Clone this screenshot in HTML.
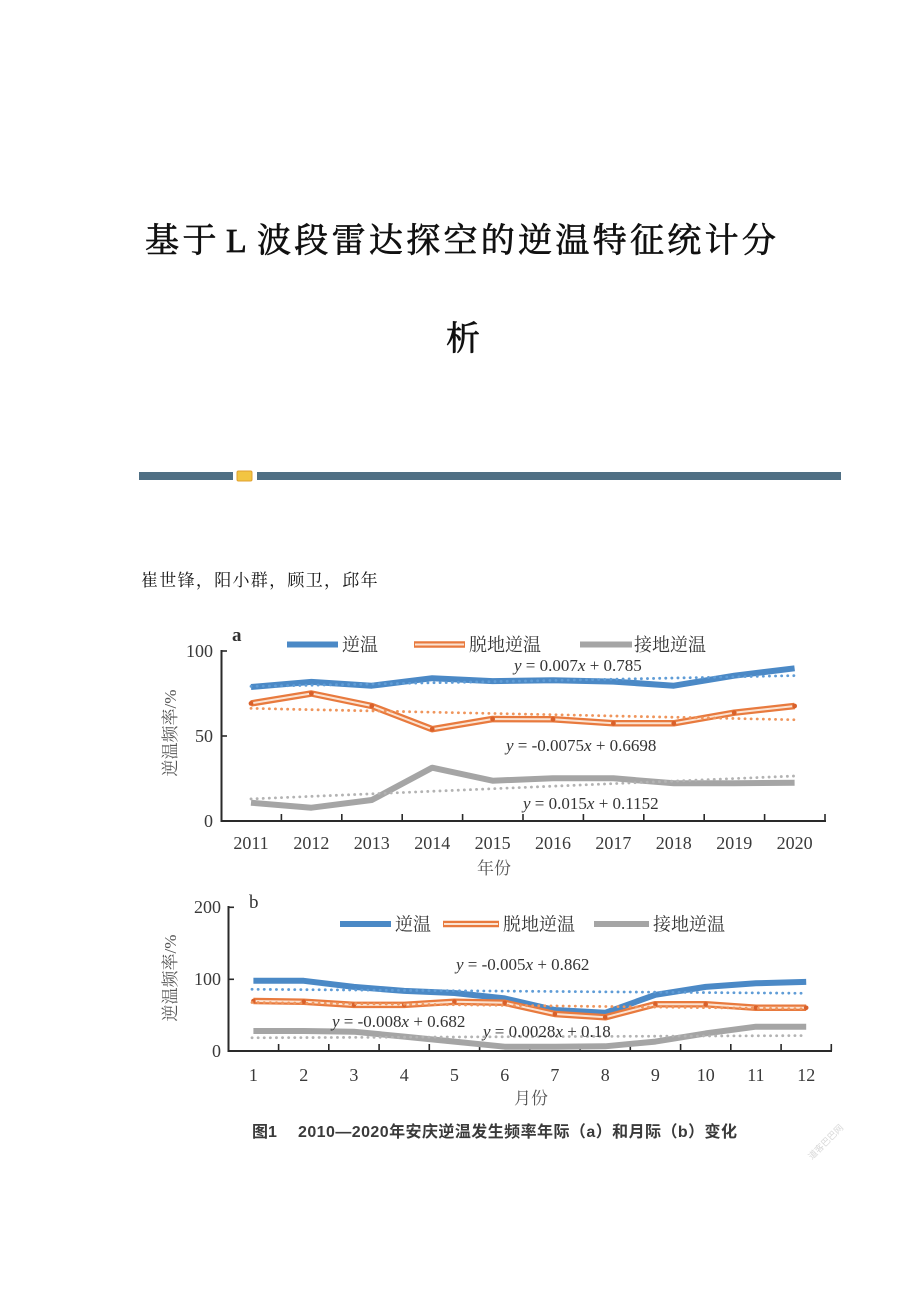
<!DOCTYPE html>
<html>
<head>
<meta charset="utf-8">
<style>
  html,body{margin:0;padding:0;background:#fff;}
  body{width:920px;height:1302px;overflow:hidden;}
  svg{display:block;}
  .serif{font-family:"Liberation Serif","Noto Serif CJK SC",serif;}
  .cjk{font-family:"Liberation Serif","Noto Serif CJK SC",serif;}
  .sans{font-family:"Liberation Sans","Noto Sans CJK SC",sans-serif;}
</style>
</head>
<body>
<svg width="920" height="1302" viewBox="0 0 920 1302" xmlns="http://www.w3.org/2000/svg">
  <rect width="920" height="1302" fill="#fff"/>

  <!-- Title -->
  <text class="cjk" font-size="34" fill="#111" stroke="#111" stroke-width="0.7" y="252"
        x="145 182.5 226 257 294.3 331.6 368.9 406.2 443.5 480.8 518.1 555.4 592.7 630 667.3 704.6 741.9">基于L波段雷达探空的逆温特征统计分</text>
  <text class="cjk" font-size="34" fill="#111" stroke="#111" stroke-width="0.7" x="446" y="350">析</text>

  <!-- Divider -->
  <rect x="139" y="472" width="94" height="8" fill="#4f6f84"/>
  <rect x="257" y="472" width="584" height="8" fill="#4f6f84"/>
  <rect x="237" y="471" width="15" height="10" rx="1.5" fill="#f2c542" stroke="#e0a030" stroke-width="1"/>

  <!-- Authors -->
  <text class="cjk" font-size="17" fill="#111" y="586"
        x="141 159.3 177.6 195.9 214.2 232.5 250.8 269.1 287.4 305.7 324 342.3 360.6">崔世锋，阳小群，顾卫，邱年</text>

  <!-- ================= Chart a ================= -->
  <g>
    <text class="serif" font-size="19" font-weight="bold" fill="#333" x="232" y="641">a</text>
    <!-- legend -->
    <line x1="287" y1="644.5" x2="338" y2="644.5" stroke="#4b89c6" stroke-width="6"/>
    <text class="cjk" font-size="18" fill="#333" x="342" y="651">逆温</text>
    <line x1="414" y1="644.5" x2="465" y2="644.5" stroke="#e87a3e" stroke-width="6.5"/>
    <line x1="415" y1="644.5" x2="464" y2="644.5" stroke="#fbe3d2" stroke-width="2"/>
    <text class="cjk" font-size="18" fill="#333" x="469" y="651">脱地逆温</text>
    <line x1="580" y1="644.5" x2="632" y2="644.5" stroke="#a5a5a5" stroke-width="6"/>
    <text class="cjk" font-size="18" fill="#333" x="634" y="651">接地逆温</text>

    <!-- axes -->
    <line x1="221.5" y1="650" x2="221.5" y2="822" stroke="#2a2a2a" stroke-width="2"/>
    <line x1="220.5" y1="821" x2="826" y2="821" stroke="#2a2a2a" stroke-width="2"/>
    <line x1="221" y1="651" x2="227" y2="651" stroke="#2a2a2a" stroke-width="1.6"/>
    <line x1="221" y1="736" x2="227" y2="736" stroke="#2a2a2a" stroke-width="1.6"/>
    <g stroke="#2a2a2a" stroke-width="1.6">
      <line x1="281.4" y1="821" x2="281.4" y2="814"/>
      <line x1="341.8" y1="821" x2="341.8" y2="814"/>
      <line x1="402.2" y1="821" x2="402.2" y2="814"/>
      <line x1="462.6" y1="821" x2="462.6" y2="814"/>
      <line x1="523" y1="821" x2="523" y2="814"/>
      <line x1="583.4" y1="821" x2="583.4" y2="814"/>
      <line x1="643.8" y1="821" x2="643.8" y2="814"/>
      <line x1="704.2" y1="821" x2="704.2" y2="814"/>
      <line x1="764.6" y1="821" x2="764.6" y2="814"/>
      <line x1="825" y1="821" x2="825" y2="814"/>
    </g>
    <!-- y tick labels -->
    <g class="serif" font-size="18" fill="#3a3a3a" text-anchor="end">
      <text x="213" y="657">100</text>
      <text x="213" y="742">50</text>
      <text x="213" y="827">0</text>
    </g>
    <!-- x tick labels -->
    <g class="serif" font-size="18" fill="#3a3a3a" text-anchor="middle">
      <text x="251" y="849">2011</text>
      <text x="311.4" y="849">2012</text>
      <text x="371.8" y="849">2013</text>
      <text x="432.2" y="849">2014</text>
      <text x="492.6" y="849">2015</text>
      <text x="553" y="849">2016</text>
      <text x="613.4" y="849">2017</text>
      <text x="673.8" y="849">2018</text>
      <text x="734.2" y="849">2019</text>
      <text x="794.6" y="849">2020</text>
    </g>
    <text class="cjk" font-size="17" fill="#555" x="494" y="874" text-anchor="middle">年份</text>
    <text class="cjk" font-size="17" fill="#555" transform="translate(176,733) rotate(-90)" text-anchor="middle">逆温频率/%</text>

    <!-- series -->
    <polyline fill="none" stroke="#4b89c6" stroke-width="6" stroke-linejoin="round"
      points="251,687 311.4,681.9 371.8,685.7 432.2,678.2 492.6,681.1 553,680.2 613.4,681.6 673.8,685.7 734.2,675.7 794.6,668.3"/>
    <polyline fill="none" stroke="#e87a3e" stroke-width="6.5" stroke-linejoin="round"
      points="251,703.4 311.4,693.5 371.8,706 432.2,729.2 492.6,719 553,719.3 613.4,723.3 673.8,723.3 734.2,712.7 794.6,706"/>
    <polyline fill="none" stroke="#fbe3d2" stroke-width="2" stroke-linejoin="round"
      points="251,703.4 311.4,693.5 371.8,706 432.2,729.2 492.6,719 553,719.3 613.4,723.3 673.8,723.3 734.2,712.7 794.6,706"/>
    <g fill="#d9602a">
      <circle cx="251" cy="703.4" r="2.4"/><circle cx="311.4" cy="693.5" r="2.4"/>
      <circle cx="371.8" cy="706" r="2.4"/><circle cx="432.2" cy="729.2" r="2.4"/>
      <circle cx="492.6" cy="719" r="2.4"/><circle cx="553" cy="719.3" r="2.4"/>
      <circle cx="613.4" cy="723.3" r="2.4"/><circle cx="673.8" cy="723.3" r="2.4"/>
      <circle cx="734.2" cy="712.7" r="2.4"/><circle cx="794.6" cy="706" r="2.4"/>
    </g>
    <polyline fill="none" stroke="#a5a5a5" stroke-width="6" stroke-linejoin="round"
      points="251,802.7 311.4,807.7 371.8,800 432.2,767.7 492.6,780.7 553,778.3 613.4,778.3 673.8,783.3 734.2,783.3 794.6,782.7"/>

    <!-- trend lines -->
    <line x1="251" y1="686.4" x2="797" y2="675.6" stroke="#5f9cd6" stroke-width="2.8" stroke-linecap="round" stroke-dasharray="0.1 6"/>
    <line x1="251" y1="708.4" x2="797" y2="719.8" stroke="#ef955c" stroke-width="2.8" stroke-linecap="round" stroke-dasharray="0.1 6"/>
    <line x1="251" y1="798.9" x2="797" y2="775.9" stroke="#b3b3b3" stroke-width="2.8" stroke-linecap="round" stroke-dasharray="0.1 6"/>

    <!-- equations -->
    <g class="serif" font-size="17" fill="#333">
      <text x="514" y="671"><tspan font-style="italic">y</tspan> = 0.007<tspan font-style="italic">x</tspan> + 0.785</text>
      <text x="506" y="751"><tspan font-style="italic">y</tspan> = -0.0075<tspan font-style="italic">x</tspan> + 0.6698</text>
      <text x="523" y="809"><tspan font-style="italic">y</tspan> = 0.015<tspan font-style="italic">x</tspan> + 0.1152</text>
    </g>
  </g>

  <!-- ================= Chart b ================= -->
  <g>
    <text class="serif" font-size="19" fill="#333" x="249" y="908">b</text>
    <!-- legend -->
    <line x1="340" y1="924" x2="391" y2="924" stroke="#4b89c6" stroke-width="6"/>
    <text class="cjk" font-size="18" fill="#333" x="395" y="930.5">逆温</text>
    <line x1="443" y1="924" x2="499" y2="924" stroke="#e87a3e" stroke-width="6.5"/>
    <line x1="444" y1="924" x2="498" y2="924" stroke="#fbe3d2" stroke-width="2"/>
    <text class="cjk" font-size="18" fill="#333" x="503" y="930.5">脱地逆温</text>
    <line x1="594" y1="924" x2="649" y2="924" stroke="#a5a5a5" stroke-width="6"/>
    <text class="cjk" font-size="18" fill="#333" x="653" y="930.5">接地逆温</text>

    <!-- axes -->
    <line x1="228.5" y1="906" x2="228.5" y2="1052" stroke="#2a2a2a" stroke-width="2"/>
    <line x1="227.5" y1="1051" x2="832" y2="1051" stroke="#2a2a2a" stroke-width="2"/>
    <line x1="228" y1="907.3" x2="234" y2="907.3" stroke="#2a2a2a" stroke-width="1.6"/>
    <line x1="228" y1="979.3" x2="234" y2="979.3" stroke="#2a2a2a" stroke-width="1.6"/>
    <g stroke="#2a2a2a" stroke-width="1.6">
      <line x1="278.6" y1="1051" x2="278.6" y2="1044"/>
      <line x1="328.8" y1="1051" x2="328.8" y2="1044"/>
      <line x1="379.1" y1="1051" x2="379.1" y2="1044"/>
      <line x1="429.3" y1="1051" x2="429.3" y2="1044"/>
      <line x1="479.6" y1="1051" x2="479.6" y2="1044"/>
      <line x1="529.8" y1="1051" x2="529.8" y2="1044"/>
      <line x1="580.1" y1="1051" x2="580.1" y2="1044"/>
      <line x1="630.3" y1="1051" x2="630.3" y2="1044"/>
      <line x1="680.6" y1="1051" x2="680.6" y2="1044"/>
      <line x1="730.8" y1="1051" x2="730.8" y2="1044"/>
      <line x1="781.1" y1="1051" x2="781.1" y2="1044"/>
      <line x1="831.3" y1="1051" x2="831.3" y2="1044"/>
    </g>
    <g class="serif" font-size="18" fill="#3a3a3a" text-anchor="end">
      <text x="221" y="913">200</text>
      <text x="221" y="985">100</text>
      <text x="221" y="1057">0</text>
    </g>
    <g class="serif" font-size="18" fill="#3a3a3a" text-anchor="middle">
      <text x="253.4" y="1081">1</text>
      <text x="303.7" y="1081">2</text>
      <text x="353.9" y="1081">3</text>
      <text x="404.2" y="1081">4</text>
      <text x="454.4" y="1081">5</text>
      <text x="504.7" y="1081">6</text>
      <text x="554.9" y="1081">7</text>
      <text x="605.2" y="1081">8</text>
      <text x="655.4" y="1081">9</text>
      <text x="705.7" y="1081">10</text>
      <text x="755.9" y="1081">11</text>
      <text x="806.2" y="1081">12</text>
    </g>
    <text class="cjk" font-size="17" fill="#555" x="531" y="1104" text-anchor="middle">月份</text>
    <text class="cjk" font-size="17" fill="#555" transform="translate(176,978) rotate(-90)" text-anchor="middle">逆温频率/%</text>

    <!-- series -->
    <polyline fill="none" stroke="#4b89c6" stroke-width="6" stroke-linejoin="round"
      points="253.4,980.8 303.7,980.8 353.9,986.9 404.2,990.9 454.4,993 504.7,998.4 554.9,1010 605.2,1012.8 655.4,994.8 705.7,986.9 755.9,983.3 806.2,981.9"/>
    <polyline fill="none" stroke="#e87a3e" stroke-width="6.5" stroke-linejoin="round"
      points="253.4,1001 303.7,1001.7 353.9,1004.9 404.2,1004.9 454.4,1001.7 504.7,1002.8 554.9,1014 605.2,1017.3 655.4,1004.2 705.7,1004.2 755.9,1007.8 806.2,1007.8"/>
    <polyline fill="none" stroke="#fbe3d2" stroke-width="2" stroke-linejoin="round"
      points="253.4,1001 303.7,1001.7 353.9,1004.9 404.2,1004.9 454.4,1001.7 504.7,1002.8 554.9,1014 605.2,1017.3 655.4,1004.2 705.7,1004.2 755.9,1007.8 806.2,1007.8"/>
    <g fill="#d9602a">
      <circle cx="253.4" cy="1001" r="2.3"/><circle cx="303.7" cy="1001.7" r="2.3"/>
      <circle cx="353.9" cy="1004.9" r="2.3"/><circle cx="404.2" cy="1004.9" r="2.3"/>
      <circle cx="454.4" cy="1001.7" r="2.3"/><circle cx="504.7" cy="1002.8" r="2.3"/>
      <circle cx="554.9" cy="1014" r="2.3"/><circle cx="605.2" cy="1017.3" r="2.3"/>
      <circle cx="655.4" cy="1004.2" r="2.3"/><circle cx="705.7" cy="1004.2" r="2.3"/>
      <circle cx="755.9" cy="1007.8" r="2.3"/><circle cx="806.2" cy="1007.8" r="2.3"/>
    </g>
    <polyline fill="none" stroke="#a5a5a5" stroke-width="6" stroke-linejoin="round"
      points="253.4,1031 303.7,1031 353.9,1031.7 404.2,1036.6 454.4,1041.6 504.7,1046.7 554.9,1046.7 605.2,1046.3 655.4,1041.6 705.7,1033.4 755.9,1026.7 806.2,1026.7"/>

    <!-- trend lines -->
    <line x1="252" y1="989.3" x2="807" y2="993.3" stroke="#5f9cd6" stroke-width="2.8" stroke-linecap="round" stroke-dasharray="0.1 6"/>
    <line x1="252" y1="1002.5" x2="807" y2="1008.8" stroke="#ef955c" stroke-width="2.8" stroke-linecap="round" stroke-dasharray="0.1 6"/>
    <line x1="252" y1="1037.8" x2="807" y2="1035.6" stroke="#b3b3b3" stroke-width="2.8" stroke-linecap="round" stroke-dasharray="0.1 6"/>

    <g class="serif" font-size="17" fill="#333">
      <text x="456" y="970"><tspan font-style="italic">y</tspan> = -0.005<tspan font-style="italic">x</tspan> + 0.862</text>
      <text x="332" y="1027"><tspan font-style="italic">y</tspan> = -0.008<tspan font-style="italic">x</tspan> + 0.682</text>
      <text x="483" y="1037"><tspan font-style="italic">y</tspan> = 0.0028<tspan font-style="italic">x</tspan> + 0.18</text>
    </g>
  </g>

  <!-- Caption -->
  <g class="sans" font-size="16" font-weight="bold" fill="#3a3a3a">
    <text x="252" y="1137">图1</text>
    <text x="298" y="1137" textLength="439" lengthAdjust="spacing">2010—2020年安庆逆温发生频率年际（a）和月际（b）变化</text>
  </g>

  <!-- faint watermark -->
  <text class="sans" font-size="9" fill="#d8d8d8" transform="translate(812,1160) rotate(-45)">道客巴巴网</text>
</svg>
</body>
</html>
